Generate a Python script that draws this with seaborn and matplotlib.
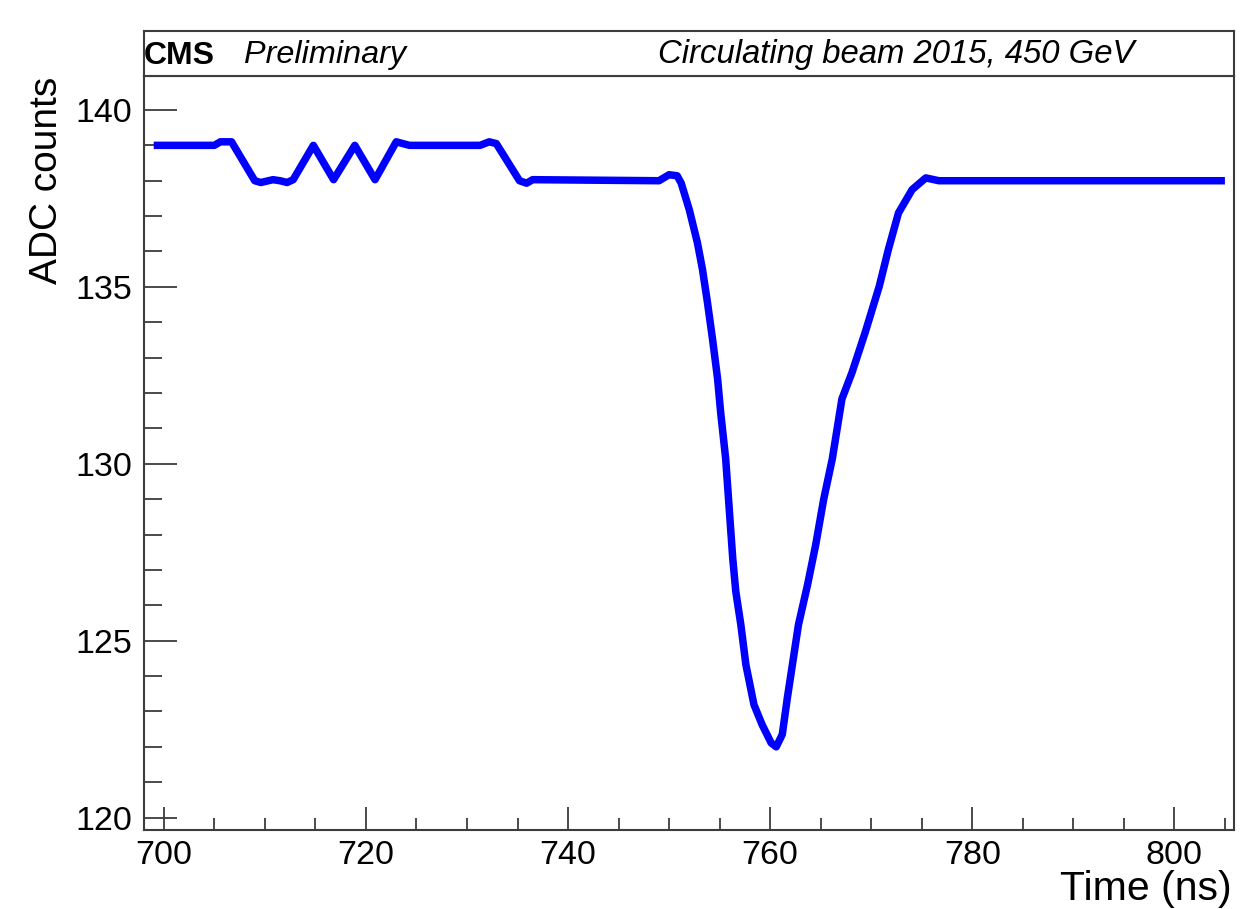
import matplotlib
matplotlib.use("Agg")
import matplotlib.pyplot as plt
import seaborn as sns
import pandas as pd
from matplotlib.ticker import MultipleLocator

# ---- data ----
time_ns = [699.0, 705.0, 705.6, 706.7, 709.0, 709.6, 710.8, 711.5, 712.2, 712.8,
           714.8, 716.8, 718.9, 720.9, 723.0, 724.3, 731.3, 732.2, 732.9, 735.2,
           735.9, 736.5, 749.0, 750.0, 750.8, 751.2, 752.0, 752.8, 753.3, 753.8,
           754.3, 754.8, 755.1, 755.6, 755.95, 756.3, 756.6, 757.1, 757.6, 758.4,
           759.2, 760.1, 760.6, 761.2, 761.7, 762.2, 762.8, 763.7, 764.5, 765.3,
           766.15, 767.1, 768.1, 769.4, 770.8, 771.7, 772.7, 774.05, 775.4, 776.7,
           805.0]
adc_counts = [139.0, 139.0, 139.1, 139.1, 138.0, 137.95, 138.03, 138.0, 137.95, 138.03,
              139.0, 138.03, 139.0, 138.03, 139.1, 139.0, 139.0, 139.1, 139.05, 138.0,
              137.93, 138.03, 138.0, 138.17, 138.14, 137.93, 137.18, 136.25, 135.5, 134.55,
              133.52, 132.4, 131.46, 130.14, 128.73, 127.32, 126.39, 125.45, 124.32, 123.19,
              122.63, 122.11, 122.0, 122.35, 123.38, 124.32, 125.45, 126.58, 127.7, 129.0,
              130.14, 131.83, 132.58, 133.71, 135.02, 136.06, 137.09, 137.75, 138.08, 138.0,
              138.0]
x_major_ticks = [700, 720, 740, 760, 780, 800]
y_major_ticks = [120, 125, 130, 135, 140]
x_label = "Time (ns)"
y_label = "ADC counts"
header_left_bold = "CMS"
header_left = "Preliminary"
header_right = "Circulating beam 2015, 450 GeV"

df = pd.DataFrame({"t": time_ns, "adc": adc_counts})

sns.set_style("ticks")
plt.rcParams["font.family"] = ["Liberation Sans", "DejaVu Sans"]
plt.rcParams["text.color"] = "black"

W, H = 1245, 909
fig = plt.figure(figsize=(W / 100, H / 100), dpi=100)
fig.patch.set_facecolor("white")

def fx(px):
    return px / W

def fy(py):
    return 1 - py / H

ax_l, ax_r, ax_t, ax_b = 143.6, 1234.0, 76.0, 830.0
ax = fig.add_axes([fx(ax_l), fy(ax_b), fx(ax_r - ax_l), (ax_b - ax_t) / H])

sns.lineplot(data=df, x="t", y="adc", ax=ax, color="#0000ff", lw=5.4,
             estimator=None, sort=False)
for ln in ax.lines:
    ln.set_solid_joinstyle("round")
    ln.set_solid_capstyle("butt")

ax.set_xlim(698.0, 805.9)
ax.set_ylim(119.65, 140.96)
ax.set_xticks(x_major_ticks)
ax.set_yticks(y_major_ticks)
ax.xaxis.set_minor_locator(MultipleLocator(5))
ax.yaxis.set_minor_locator(MultipleLocator(1))
ax.set_xlabel("")
ax.set_ylabel("")

edge = "#3c3c3c"
for s in ax.spines.values():
    s.set_color(edge)
    s.set_linewidth(1.5)
    s.set_visible(True)

ax.tick_params(axis="x", which="major", direction="in", length=16.5, width=1.3,
               color=edge, labelsize=24.5, pad=7, top=False, labelcolor="black")
ax.tick_params(axis="x", which="minor", direction="in", length=8.4, width=1.3,
               color=edge, top=False)
ax.tick_params(axis="y", which="major", direction="in", length=23.5, width=1.3,
               color=edge, labelsize=24.5, pad=8, right=False, labelcolor="black")
ax.tick_params(axis="y", which="minor", direction="in", length=13, width=1.3,
               color=edge, right=False)
ax.grid(False)

# header box
hdr_top = 30.5
hax = fig.add_axes([fx(ax_l), fy(ax_t), fx(ax_r - ax_l), (ax_t - hdr_top) / H])
hax.set_xticks([])
hax.set_yticks([])
hax.set_facecolor("white")
for s in hax.spines.values():
    s.set_color(edge)
    s.set_linewidth(1.5)

base = fy(63.5)
fig.text(fx(143.5), base, header_left_bold, fontsize=23, fontweight="bold",
         va="baseline", ha="left")
fig.text(fx(244), base, header_left, fontsize=23.3, fontstyle="italic",
         va="baseline", ha="left")
fig.text(fx(658), base, header_right, fontsize=23.7, fontstyle="italic",
         va="baseline", ha="left")

# axis titles
fig.text(fx(47), fy(77), y_label, rotation=90, fontsize=28, ha="center", va="top")
fig.text(fx(1232), fy(900), x_label, fontsize=29.5, ha="right", va="baseline")

fig.savefig("out.png", dpi=100, facecolor="white")
